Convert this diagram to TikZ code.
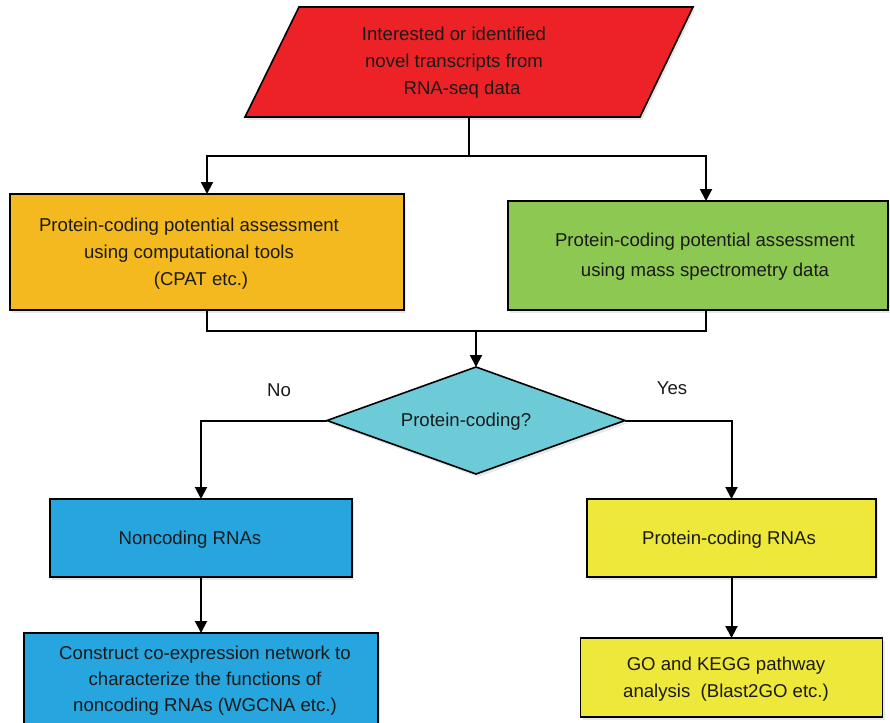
\documentclass[tikz,border=0pt]{standalone}
\usepackage{fontspec}
\setmainfont{Liberation Sans}
\usetikzlibrary{shapes.geometric,arrows.meta,shadows,calc}
\definecolor{cred}{HTML}{ED2226}
\definecolor{corange}{HTML}{F4B91E}
\definecolor{cgreen}{HTML}{8DC853}
\definecolor{ccyan}{HTML}{6DCBD8}
\definecolor{cblue}{HTML}{27A5DE}
\definecolor{cyellow}{HTML}{EEE83B}
\definecolor{ctext}{HTML}{1A1A1A}
\tikzset{
  boxshape/.style={draw=black, line width=1.6pt, inner sep=0pt, outer sep=0pt,
    drop shadow={shadow xshift=2pt, shadow yshift=-3pt, fill=gray!60, opacity=0.3}},
  txt/.style={align=center, text=ctext, font=\fontsize{18.6}{27}\selectfont, inner sep=0pt},
  conn/.style={line width=2pt, draw=black},
  arr/.style={conn, -{Triangle[length=12pt,width=12pt]}}
}
\begin{document}
\begin{tikzpicture}[x=1pt,y=-1pt]
\useasboundingbox (0,0) rectangle (890,722);
\clip (0,0) rectangle (890,722);
% parallelogram
\fill[gray!60, opacity=0.3] (301,10) -- (695,10) -- (642,120) -- (247,120) -- cycle;
\draw[fill=cred, line width=1.6pt] (299,7) -- (693,7) -- (640,117) -- (245,117) -- cycle;
\node[txt] (tpara) at (454,63) {Interested or identified\\novel transcripts from\\\hspace{16pt}RNA-seq data};
\coordinate (pbot) at (469,117);
\coordinate (split) at (469,156);
% boxes
\node[boxshape, fill=corange, minimum width=394pt, minimum height=116pt] (orange) at (207,252) {};
\node[txt] (torange) at (189,254) {Protein-coding potential assessment\\using computational tools\\\hspace{24pt}(CPAT etc.)};
\node[boxshape, fill=cgreen, minimum width=380pt, minimum height=109pt] (green) at (698,255.5) {};
\node[txt, font=\fontsize{18.6}{30}\selectfont] (tgreen) at (705,257) {Protein-coding potential assessment\\using mass spectrometry data};
\node[boxshape, draw=black, shape=diamond, fill=ccyan, minimum width=298pt, minimum height=107pt] (dia) at (476,420.5) {};
\node[txt] (tdia) at (466,422) {Protein-coding?};
\node[boxshape, fill=cblue, minimum width=302pt, minimum height=78pt] (blue1) at (201,538) {};
\node[txt] (tblue1) at (190,540) {Noncoding RNAs};
\node[boxshape, fill=cblue, minimum width=354pt, minimum height=140pt] (blue2) at (201,703) {};
\node[txt, font=\fontsize{18.6}{26}\selectfont] (tblue2) at (205,681) {Construct co-expression network to\\characterize the functions of\\noncoding RNAs (WGCNA etc.)};
\node[boxshape, fill=cyellow, minimum width=289pt, minimum height=78pt] (yellow1) at (731.5,538) {};
\node[txt] (tyellow1) at (729,540) {Protein-coding RNAs};
\node[boxshape, fill=cyellow, minimum width=302pt, minimum height=79pt] (yellow2) at (731.5,677.5) {};
\node[txt] (tyellow2) at (726,679) {GO and KEGG pathway\\analysis\ \ (Blast2GO etc.)};
% labels
\node[txt] (no) at (279,390) {No};
\node[txt] (yes) at (672,388) {Yes};
% connectors
\draw[conn] (pbot) -- (split);
\draw[arr] (split) -| (orange.north);
\draw[arr] (split) -| ([xshift=8pt]green.north);
\coordinate (merge) at (476,331);
\draw[conn] (orange.south) |- (merge);
\draw[conn] ([xshift=8pt]green.south) |- (merge);
\draw[arr] (merge) -- (dia.north);
\draw[arr] (dia.west) -| (blue1.north);
\draw[arr] (dia.east) -| (yellow1.north);
\draw[arr] (blue1.south) -- (blue2.north);
\draw[arr] (yellow1.south) -- (yellow2.north);
\end{tikzpicture}
\end{document}
